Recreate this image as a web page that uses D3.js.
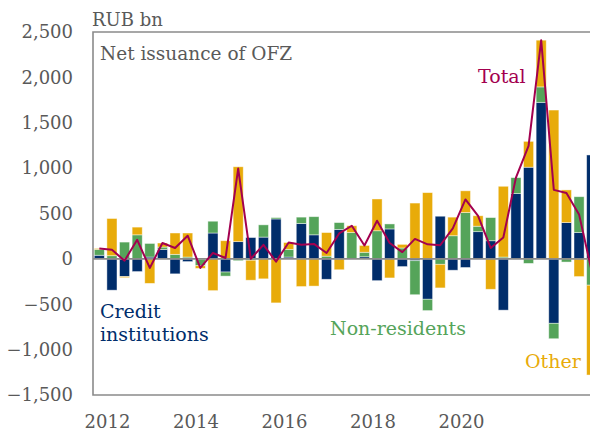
<!DOCTYPE html>
<html>
<head>
<meta charset="utf-8">
<script src="https://cdn.jsdelivr.net/npm/d3@7"></script>
<style>
  body { margin: 0; background: #fff; }
  text { font-family: "DejaVu Serif", serif; }
</style>
</head>
<body>
<svg id="chart"></svg>
<script>
// Constants
const svgWidth = 590;
const svgHeight = 432;
const plot = {left: 93, top: 32, right: 598, bottom: 395};

// Quarters, 2012Q1 .. 2021Q4
const quarters = [
  "2012Q1", "2012Q2", "2012Q3", "2012Q4", "2013Q1", "2013Q2", "2013Q3", "2013Q4",
  "2014Q1", "2014Q2", "2014Q3", "2014Q4", "2015Q1", "2015Q2", "2015Q3", "2015Q4",
  "2016Q1", "2016Q2", "2016Q3", "2016Q4", "2017Q1", "2017Q2", "2017Q3", "2017Q4",
  "2018Q1", "2018Q2", "2018Q3", "2018Q4", "2019Q1", "2019Q2", "2019Q3", "2019Q4",
  "2020Q1", "2020Q2", "2020Q3", "2020Q4", "2021Q1", "2021Q2", "2021Q3", "2021Q4"
];

// RUB bn
const creditInstitutions = [
  40, -345, -195, -140, 20, 105, -165, -30, -5, 285,
  -145, 190, 235, 240, 440, 20, 390, 265, -225, 325,
  0, 23, -240, 330, -85, -20, -445, 470, -125, -95,
  300, 200, -565, 720, 1010, 1725, -710, 400, 290, 1145
];
const nonResidents = [
  65, 35, 185, 265, 150, 25, 50, 20, -70, 130,
  -45, -20, -15, 135, 15, 85, 70, 200, 30, 75,
  290, 50, 310, 55, 120, -375, -125, -60, 255, 510,
  60, 255, 20, 175, -50, 170, -170, -35, 395, -290
];
const other = [
  10, 410, -12, 85, -270, 45, 235, 265, -30, -350,
  200, 825, -220, -220, -485, 75, -305, -300, 260, -120,
  75, 75, 350, -210, 40, 615, 730, -260, 205, 240,
  115, -335, 780, 0, 285, 515, 1640, 360, -195, -990
];
const total = [
  115, 100, -20, 210, -100, 175, 120, 255, -100, 65,
  10, 995, 0, 155, -30, 180, 155, 165, 65, 280,
  365, 148, 420, 175, 75, 220, 160, 150, 335, 655,
  475, 120, 235, 895, 1245, 2410, 760, 725, 490, -135
];

const yTicks = [-1500, -1000, -500, 0, 500, 1000, 1500, 2000, 2500];
const yearTicks = [2012, 2014, 2016, 2018, 2020];

const seriesKeys = ["credit", "nonres", "other"];
const colors = {credit: "#002d6b", nonres: "#55a45a", other: "#e8ab0a"};
const totalColor = "#a3004f";
const greyText = "#595959";
const frameColor = "#8a8a8a";

// Table for the stack
const table = quarters.map((q, i) => ({
  quarter: q,
  credit: creditInstitutions[i],
  nonres: nonResidents[i],
  other: other[i],
  total: total[i]
}));

const svg = d3.select("#chart")
  .attr("width", svgWidth)
  .attr("height", svgHeight);

// Scales
const xScale = d3.scaleBand()
  .domain(quarters)
  .range([plot.left, plot.right])
  .paddingInner(0.2)
  .paddingOuter(0.1);

const yScale = d3.scaleLinear()
  .domain([-1500, 2500])
  .range([plot.bottom, plot.top]);

// year labels sit on their own axis
const yearScale = d3.scaleLinear()
  .domain([2012, 2020])
  .range([107, 461]);

// Stacked bars
const stacked = d3.stack()
  .keys(seriesKeys)
  .offset(d3.stackOffsetDiverging)(table);

svg.append("g")
  .attr("id", "barGroup")
  .selectAll("g")
  .data(stacked)
  .join("g")
    .attr("fill", d => colors[d.key])
  .selectAll("rect")
  .data(d => d)
  .join("rect")
    .attr("x", d => xScale(d.data.quarter))
    .attr("y", d => yScale(Math.max(d[0], d[1])))
    .attr("width", xScale.bandwidth())
    .attr("height", d => Math.abs(yScale(d[0]) - yScale(d[1])))
    .attr("stroke", "#fff")
    .attr("stroke-width", 0.8)
    .attr("stroke-opacity", 0.55);

// Zero line
svg.append("line")
  .attr("x1", plot.left)
  .attr("x2", svgWidth)
  .attr("y1", yScale(0))
  .attr("y2", yScale(0))
  .attr("stroke", frameColor)
  .attr("stroke-width", 1.6);

// Frame
svg.append("path")
  .attr("d", `M${svgWidth},${plot.top}H${plot.left}V${plot.bottom}H${svgWidth}`)
  .attr("fill", "none")
  .attr("stroke", frameColor)
  .attr("stroke-width", 1.6);

// Total line
const line = d3.line()
  .x(d => xScale(d.quarter) + xScale.bandwidth() / 2)
  .y(d => yScale(d.total));

svg.append("path")
  .datum(table)
  .attr("d", line)
  .attr("fill", "none")
  .attr("stroke", totalColor)
  .attr("stroke-width", 2)
  .attr("stroke-linejoin", "round");

// Y axis
svg.append("g")
  .attr("id", "yAxis")
  .attr("transform", `translate(${plot.left}, 0)`)
  .call(d3.axisLeft(yScale)
    .tickValues(yTicks)
    .tickSize(0)
    .tickPadding(20)
    .tickFormat(d3.format(",")))
  .call(g => g.select(".domain").remove())
  .selectAll("text")
    .attr("font-family", "DejaVu Serif")
    .attr("font-size", 18)
    .attr("fill", greyText);

// X axis (years)
svg.append("g")
  .attr("id", "xAxis")
  .attr("transform", `translate(0, ${plot.bottom})`)
  .call(d3.axisBottom(yearScale)
    .tickValues(yearTicks)
    .tickSize(0)
    .tickPadding(20)
    .tickFormat(d3.format("d")))
  .call(g => g.select(".domain").remove())
  .selectAll("text")
    .attr("font-family", "DejaVu Serif")
    .attr("font-size", 18)
    .attr("fill", greyText);

// Titles
svg.append("text")
  .attr("x", 92)
  .attr("y", 26)
  .attr("font-size", 18)
  .attr("fill", greyText)
  .text("RUB bn");

svg.append("text")
  .attr("x", 100)
  .attr("y", 60)
  .attr("font-size", 18.5)
  .attr("fill", greyText)
  .text("Net issuance of OFZ");

// Series labels
const labels = [
  {text: "Total", x: 478, y: 83, color: totalColor},
  {text: "Credit", x: 100, y: 318, color: colors.credit},
  {text: "institutions", x: 100, y: 341, color: colors.credit},
  {text: "Non-residents", x: 330, y: 335, color: colors.nonres},
  {text: "Other", x: 525, y: 368, color: colors.other}
];

svg.append("g")
  .selectAll("text")
  .data(labels)
  .join("text")
    .attr("x", d => d.x)
    .attr("y", d => d.y)
    .attr("font-size", 19)
    .attr("fill", d => d.color)
    .text(d => d.text);
</script>
</body>
</html>
